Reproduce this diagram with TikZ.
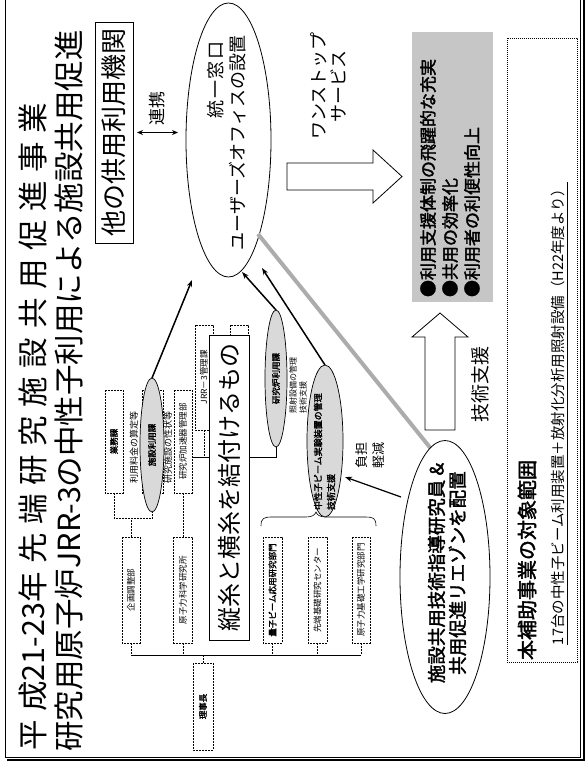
\documentclass[tikz,border=0pt]{standalone}
\usepackage{fontspec}
\setmainfont{Noto Sans CJK JP}
\newfontfamily\cjk{Noto Sans CJK JP}
\newfontfamily\cjkb[FakeBold=2]{Noto Sans CJK JP}
\newfontfamily\cjkls[LetterSpace=28]{Noto Sans CJK JP}
\newfontfamily\cjksp[LetterSpace=8]{Noto Sans CJK JP}
\newcommand\myfs[2]{\fontsize{#1}{#2}\selectfont}
\usetikzlibrary{arrows.meta,shapes.geometric,calc}
\begin{document}
\begin{tikzpicture}[x=1pt,y=-1pt,
  every node/.style={inner sep=0pt, outer sep=0pt},
  vtext/.style={rotate=90},
  orgbox/.style={draw, rotate=90, dash pattern=on 2pt off 1pt, line width=0.5pt, font=\cjk\myfs{8.5}{10}},
  conn/.style={dash pattern=on 2pt off 1pt, line width=0.5pt},
  hiell/.style={ellipse, draw, line width=0.7pt, fill=gray!30, rotate=90},
  bigell/.style={ellipse, draw, line width=0.8pt, rotate=90},
  darrow/.style={-{Stealth[length=7pt,width=5pt]}, line width=1.5pt},
  hollow/.style={draw, line width=0.8pt, fill=white}
]
\useasboundingbox (0,0) rectangle (588,764);
% frame
\draw[line width=1pt] (5,-5) -- (5,757) -- (580,757) -- (580,-5);
\draw[line width=2.5pt] (7,760) -- (584,760) -- (584,-5);

% titles
\node[vtext, font=\cjk\myfs{30.5}{32}] (t1) at (33,427) {{\cjkls 平成}21-23{\cjkls 年}\hspace{0.3em}{\cjkls 先端研究施設共用促進事業}};
\node[vtext, font=\cjk\myfs{30.5}{33}] (t2) at (69,391) {研究用原子炉JRR-3の中性子利用による施設共用促進};

% other institutions
\node[vtext, draw, line width=0.8pt, minimum width=221pt, minimum height=38pt, font=\cjk\myfs{26}{28}] (other) at (114,132.5) {他の供用利用機関};
\coordinate (renR) at (178,132.5);
\draw[{Stealth[length=6pt,width=5pt]}-{Stealth[length=6pt,width=5pt]}, line width=1.3pt, shorten <=4pt] (other.south) -- (renR);
\node[vtext, font=\cjk\myfs{17}{19}] (renkei) at (157,108) {連携};

% one-stop office
\node[bigell, minimum width=274pt, minimum height=85pt] (office) at (228.5,140) {};
\node[vtext, font=\cjksp\myfs{18}{20}] (office1) at (216,80) {統一窓口};
\node[vtext, font=\cjk\myfs{18}{20}] (office2) at (238,143) {ユーザーズオフィスの設置};

% one-stop arrow
\draw[hollow] (287,163) -- (373,163) -- (373,150) -- (402,176.5) -- (373,203) -- (373,190) -- (287,190) -- cycle;
\node[vtext, align=center, font=\cjk\myfs{18}{20}] (onestop) at (328,86) {ワンストップ\\サービス};

% result box
\node[vtext, fill=gray!45, minimum width=270pt, minimum height=81pt] (result) at (452.5,167) {};
\node[vtext, anchor=west, align=left, font=\cjkb\myfs{17}{22}] (resulttext) at (450,297) {●利用支援体制の飛躍的な充実\\●共用の効率化\\●利用者の利便性向上};

% technical support arrow
\draw[hollow] (425,430) -- (425,337) -- (412,337) -- (440,313) -- (468,337) -- (455,337) -- (455,430) -- cycle;
\node[vtext, font=\cjk\myfs{19}{21}] (support) at (480,384) {技術支援};

% scope box
\node[vtext, draw, dash pattern=on 1.2pt off 0.8pt, line width=0.8pt, minimum width=624pt, minimum height=70pt] (scope) at (542,350) {};
\node[vtext, anchor=west, font=\cjkb\myfs{20}{22}] (scope1) at (527,660) {本補助事業の対象範囲};
\node[vtext, anchor=west, font=\cjk\myfs{14.5}{17}] (scope2) at (558,645) {17台の中性子ビーム利用装置＋放射化分析用照射設備（H22年度より）};
\draw[line width=0.6pt] ($(scope2.south west)+(2,0)$) -- ($(scope2.south east)+(2,0)$);

% gray link line
\coordinate (gl1) at (258,234);
\coordinate (gl2) at (432,450);
\draw[gray!65, line width=4pt] (gl1) -- (gl2);

% liaison ellipse
\node[bigell, fill=white, minimum width=273pt, minimum height=90pt] (liaison) at (445,577) {};
\node[vtext, align=center, font=\cjkb\myfs{18.5}{21}] (liaisontext) at (447,573) {施設共用技術指導研究員 \&\\共用促進リエゾンを配置};

% org chart: lower row
\coordinate (spine) at (0,655);
\node[orgbox, minimum width=106pt, minimum height=18pt] (kikaku) at (131,590) {企画調整部};
\node[orgbox, minimum width=106pt, minimum height=19pt] (genshi) at (183,590) {原子力科学研究所};
\node[orgbox, minimum width=106pt, minimum height=19pt, font=\cjkb\myfs{8.5}{10}] (ryoshi) at (272.5,590) {量子ビーム応用研究部門};
\node[orgbox, minimum width=106pt, minimum height=19pt] (sentan) at (317.5,590) {先端基礎研究センター};
\node[orgbox, minimum width=106pt, minimum height=18pt] (kiso) at (361,590) {原子力基礎工学研究部門};
\node[orgbox, minimum width=87pt, minimum height=20pt, font=\cjkb\myfs{8.5}{10}] (rijicho) at (203,706.5) {理事長};
\draw[line width=0.6pt] (kikaku.west |- spine) -- (kiso.west |- spine);
\foreach \n in {kikaku,genshi,ryoshi,sentan,kiso} \draw[conn] (\n.west) -- (\n.west |- spine);
\draw[conn] (rijicho.east) -- (rijicho.east |- spine);

% org chart: upper row
\node[orgbox, minimum width=103pt, minimum height=18pt, font=\cjkb\myfs{8.5}{10}] (gyomu) at (114,441.5) {業務課};
\node[orgbox, minimum width=103pt, minimum height=21pt] (shisetsubox) at (152.5,441.5) {};
\node[orgbox, minimum width=103pt, minimum height=18pt] (kasokuki) at (183,441.5) {研究炉加速器管理部};
\node[orgbox, minimum width=105pt, minimum height=18pt] (jrr) at (204,377.5) {JRR－3管理課};
\node[orgbox, minimum width=105pt, minimum height=18pt] (hidden) at (239,377.5) {};
\draw[conn] (gyomu.west) -- ++(0,25) -| (shisetsubox.west);
\draw[conn] (kikaku.east) -- ++(0,-19);
\draw[conn] (kasokuki.west) -- (genshi.east);

% highlighted sections
\node[hiell, minimum width=134pt, minimum height=24pt] (eshisetsu) at (152,445) {};
\node[vtext, font=\cjkb\myfs{8.5}{10}] (eshisetsut) at (152,445) {施設利用課};
\node[vtext, font=\cjk\myfs{9}{10}] (ryokin) at (134,447) {利用料金の算定等};
\node[vtext, font=\cjk\myfs{9}{10}] (seijo) at (168,447) {研究施設の性状等};

\node[hiell, minimum width=137pt, minimum height=22pt] (erro) at (276,378.5) {};
\node[vtext, font=\cjkb\myfs{8.5}{10}] (errot) at (276,378.5) {研究炉利用課};
\node[vtext, anchor=west, align=left, font=\cjk\myfs{8}{10}] (shosha) at (298,413) {照射設備の管理\\技術支援};

\coordinate (jline) at (0,457);
\draw[line width=0.6pt] (kasokuki.south |- jline) -- (erro.west |- jline) -- (erro.west);
\draw[conn] (jrr.west) -- (jrr.west |- jline);

% brace
\draw[line width=0.6pt] (261,526) .. controls (261,518) and (264,517) .. (272,517) -- (306,517) .. controls (312,517) and (315,515) .. (316,512) .. controls (317,515) and (320,517) .. (326,517) -- (366,517) .. controls (373,517) and (376,518) .. (376,526);

\node[hiell, minimum width=152pt, minimum height=36pt] (echu) at (325,441) {};
\node[vtext, anchor=west, align=left, font=\cjkb\myfs{9}{13}] (echut) at (324.5,510) {中性子ビーム実験装置の管理\\技術支援};

% big overlay box
\node[vtext, draw, fill=white, line width=0.8pt, minimum width=305pt, minimum height=40pt, font=\cjk\myfs{24}{26}] (bigbox) at (229,487.5) {縦糸と横糸を結付けるもの};

% arrows to the office
\coordinate (a1e) at (192,280);
\coordinate (a2e) at (242,272);
\coordinate (a3e) at (262,268);
\coordinate (a4s) at (401,497);
\coordinate (a4e) at (345,477);
\draw[darrow] (eshisetsu.east) -- (a1e);
\draw[darrow] (erro.east) -- (a2e);
\draw[darrow] (echu.east) -- (a3e);
\draw[darrow, line width=1.2pt] (a4s) -- (a4e);
\node[vtext, align=left, font=\cjk\myfs{13}{17}] (futan) at (370.5,455) {負担\\軽減};
\end{tikzpicture}
\end{document}
